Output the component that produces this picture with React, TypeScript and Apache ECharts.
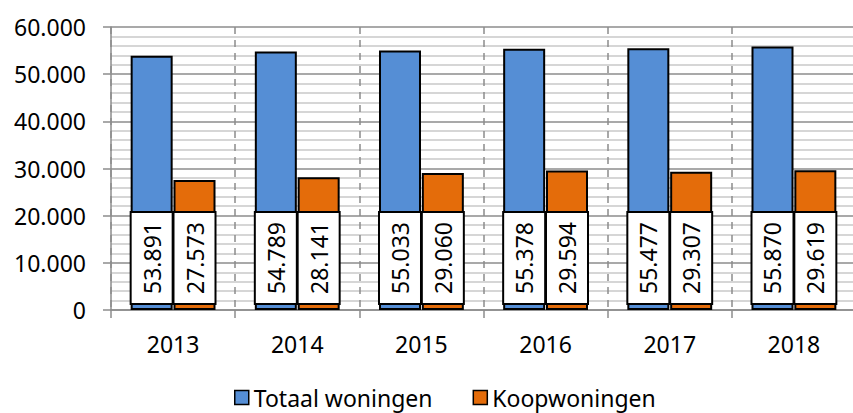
import React, { useEffect, useRef } from 'react';
import * as echarts from 'echarts';

const years = ['2013', '2014', '2015', '2016', '2017', '2018'];
const totaalWoningen = [53891, 54789, 55033, 55378, 55477, 55870];
const koopWoningen = [27573, 28141, 29060, 29594, 29307, 29619];
const seriesNames = ['Totaal woningen', 'Koopwoningen'];

const FONT = '"Noto Sans", sans-serif';

function fmt(v: number): string {
  if (v === 0) return '0';
  return Math.round(v).toString().replace(/\B(?=(\d{3})+(?!\d))/g, '.');
}

const boxLabel = {
  show: true,
  position: 'insideBottom',
  distance: 7,
  rotate: 90,
  align: 'left',
  verticalAlign: 'middle',
  formatter: (p: any) => fmt(p.value),
  color: '#000',
  fontSize: 23,
  fontFamily: FONT,
  backgroundColor: '#fff',
  borderColor: '#000',
  borderWidth: 2,
  padding: [0, 9, 0, 9],
  height: 40,
  lineHeight: 40,
};

export default function App() {
  const ref = useRef<HTMLDivElement>(null);
  useEffect(() => {
    if (!ref.current) return;
    const chart = echarts.init(ref.current, null, { renderer: 'svg' });
    chart.setOption({
      animation: false,
      backgroundColor: '#fff',
      textStyle: { fontFamily: FONT },
      grid: { left: 111, right: -3, top: 27, bottom: 103, containLabel: false, outerBoundsMode: 'none' },
      legend: {
        data: seriesNames,
        left: 234,
        top: 386,
        padding: 0,
        icon: 'rect',
        itemWidth: 14,
        itemHeight: 14,
        itemGap: 40,
        itemStyle: { borderColor: '#000', borderWidth: 1.5 },
        textStyle: { fontSize: 23, color: '#000', fontFamily: FONT },
      },
      xAxis: {
        type: 'category',
        data: years,
        boundaryGap: true,
        axisLine: { show: true, lineStyle: { color: '#8c8c8c', width: 1.5 } },
        axisTick: { show: true, length: 8, lineStyle: { color: '#8c8c8c', width: 1.5 } },
        axisLabel: { color: '#000', fontSize: 23, margin: 22, fontFamily: FONT },
        splitLine: { show: true, lineStyle: { color: '#8c8c8c', width: 1.5, type: [7, 6] } },
      },
      yAxis: {
        type: 'value',
        min: 0,
        max: 60000,
        interval: 10000,
        axisLine: { show: true, lineStyle: { color: '#8c8c8c', width: 1.5 } },
        axisTick: { show: true, length: 8, lineStyle: { color: '#8c8c8c', width: 1.5 } },
        axisLabel: { color: '#000', fontSize: 23, margin: 25, fontFamily: FONT, formatter: (v: number) => fmt(v) },
        splitLine: { show: true, lineStyle: { color: '#8c8c8c', width: 1.5 } },
        minorTick: { show: false, splitNumber: 5 },
        minorSplitLine: { show: true, lineStyle: { color: '#c8c8c8', width: 1.5 } },
      },
      series: [
        {
          name: seriesNames[0],
          type: 'bar',
          data: totaalWoningen,
          barWidth: 42,
          barGap: '2%',
          itemStyle: { color: '#558ED5', borderColor: '#000', borderWidth: 2 },
          label: boxLabel,
          z: 3,
        },
        {
          name: seriesNames[1],
          type: 'bar',
          data: koopWoningen,
          barWidth: 42,
          barGap: '2%',
          itemStyle: { color: '#E46C0A', borderColor: '#000', borderWidth: 2 },
          label: boxLabel,
          z: 3,
        },
      ],
    });
    return () => chart.dispose();
  }, []);
  return <div ref={ref} style={{ position: 'absolute', left: 0, top: 0, width: 853, height: 413 }} />;
}
